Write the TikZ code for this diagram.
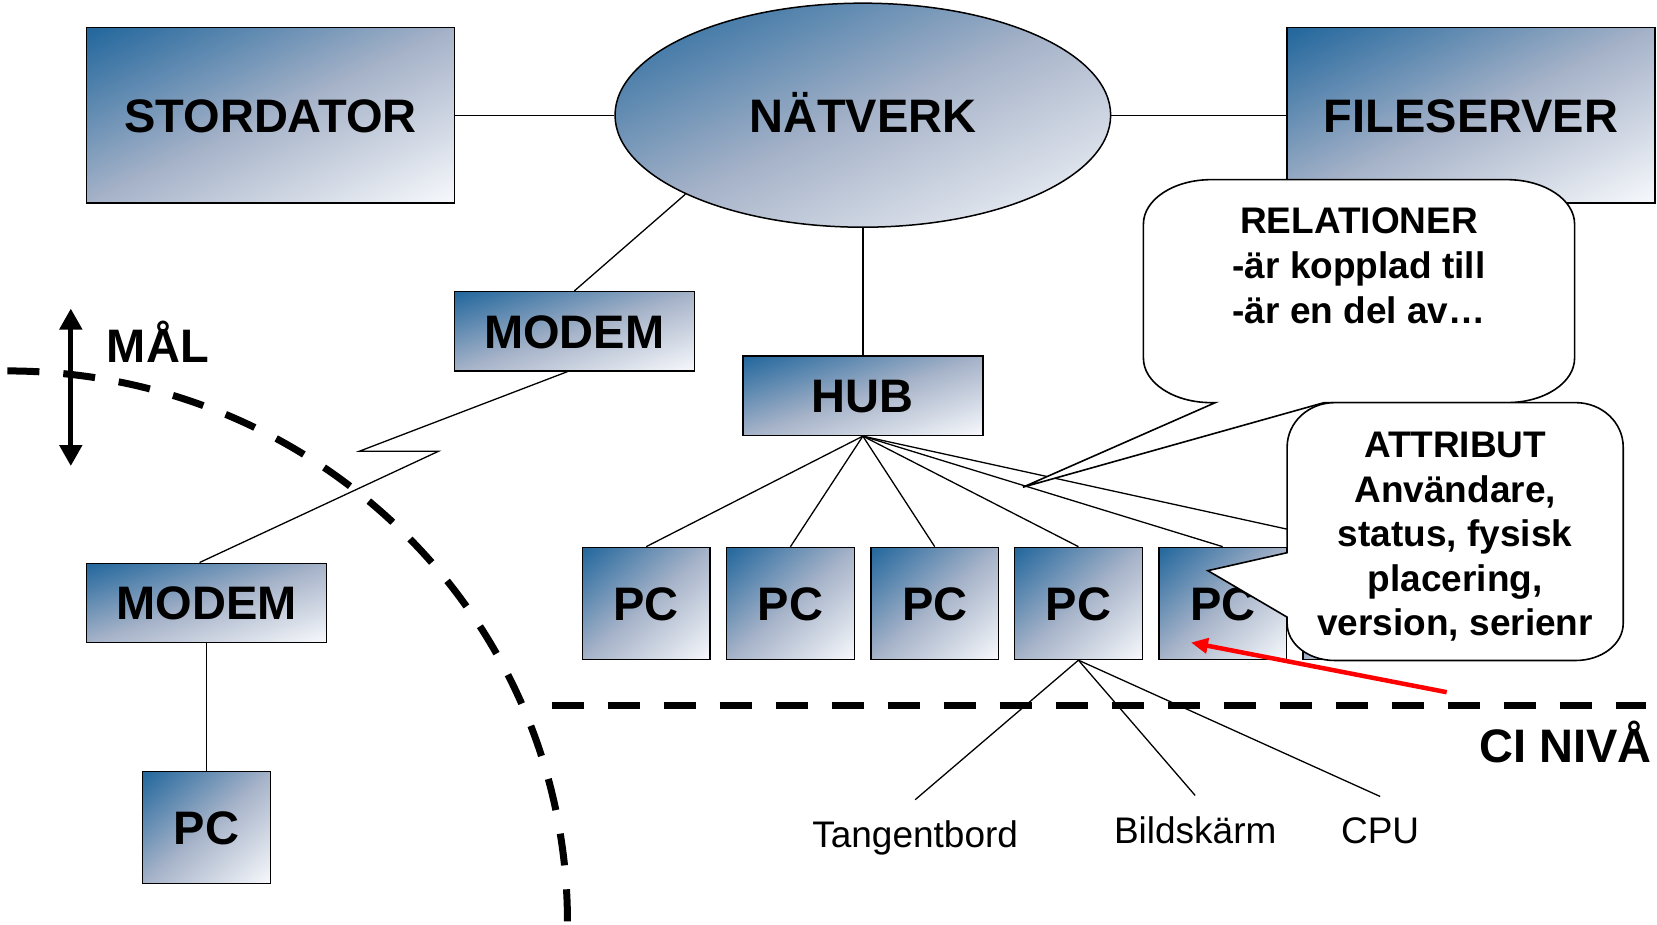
\documentclass[tikz,border=0pt]{standalone}
\usepackage{fontspec}
\setmainfont{Liberation Sans}
\usetikzlibrary{shapes.geometric,arrows.meta,backgrounds}
\pgfdeclarefunctionalshading{diagshade}{\pgfpoint{-50bp}{-50bp}}{\pgfpoint{50bp}{50bp}}{}{
  sub 50 add 100 div
  dup 0 lt {pop 0} if
  dup 1 gt {pop 1} if
  dup 0.5 lt
  { 2 mul
    dup 0.518 mul 0.129 add exch
    dup 0.298 mul 0.400 add exch
    0.172 mul 0.612 add }
  { 2 mul 1 sub
    dup 0.322 mul 0.647 add exch
    dup 0.278 mul 0.698 add exch
    0.204 mul 0.784 add }
  ifelse
}
\newcommand\BigLbl{\fontsize{47}{56}\selectfont\bfseries}
\newcommand\CallFnt{\fontsize{37}{44.6}\selectfont\bfseries}
\newcommand\SmallFnt{\fontsize{37}{44}\selectfont}
\begin{document}
\begin{tikzpicture}[x=1.0568pt, y=-1.0568pt,
  conn/.style={line width=1.3pt},
  wh/.style 2 args={minimum width=#1*1.0568pt, minimum height=#2*1.0568pt},
  gbox/.style={draw=black, line width=1.5pt, shading=diagshade, shading angle=0,
    rectangle, inner sep=0pt, font=\BigLbl, text height=33.7pt, text depth=0pt},
  callout/.style={draw=black, fill=white, line width=1.6pt},
  lbl/.style={font=\SmallFnt, inner sep=0pt, outer sep=0pt, anchor=base},
  dashline/.style={line width=7pt, dash pattern=on 32pt off 24pt},
]
\useasboundingbox (0,0) rectangle (1568,875);

% boxes
\node[gbox, wh={348}{166}] (stordator) at (256,109) {STORDATOR};
\node[gbox, ellipse, wh={469}{212}] (natverk) at (816.5,109) {NÄTVERK};
\node[gbox, wh={348}{166}] (fileserver) at (1392,109) {FILESERVER};
\node[gbox, wh={227}{75}] (modemA) at (543.5,313.5) {MODEM};
\node[gbox, wh={227}{75}] (hub) at (816.5,374.5) {HUB};
\node[gbox, wh={227}{75}] (modemB) at (195.5,570.5) {MODEM};
\foreach \i/\x in {1/611.5,2/748,3/884.5,4/1020.5,5/1157}
  \node[gbox, wh={121}{106}] (pc\i) at (\x,571) {PC};
\node[gbox, wh={121}{106}] (pc6) at (1293.5,571) {};
\node[gbox, wh={121}{106}] (pcL) at (195.5,783) {PC};

% labels under PC
\node[lbl] (tk) at (866,802) {Tangentbord};
\node[lbl] (bs) at (1131,798) {Bildskärm};
\node[lbl] (cpu) at (1306,798) {CPU};

\coordinate (zA) at (340,427);
\coordinate (zB) at (415,427);

% connectors
\begin{scope}[on background layer]
\draw[conn] (stordator.east) -- (natverk.west);
\draw[conn] (natverk.east) -- (fileserver.west);
\draw[conn] (natverk.204) -- (modemA.north);
\draw[conn] (natverk.south) -- (hub.north);
\draw[conn] ([xshift=-7pt]modemA.south) -- (zA) -- (zB) -- ([xshift=-7pt]modemB.north);
\draw[conn] (modemB.south) -- (pcL.north);
\foreach \i in {1,...,6} \draw[conn] (hub.south) -- (pc\i.north);
\draw[conn] (pc4.south) -- ([yshift=21pt]tk.north);
\draw[conn] (pc4.south) -- ([yshift=21pt]bs.north);
\draw[conn] (pc4.south) -- ([yshift=21pt]cpu.north);
\end{scope}

% callouts
\draw[callout] (1146,170) -- (1426,170) .. controls (1461.3,170) and (1490,188.8) .. (1490,212)
  -- (1490,339) .. controls (1490,362.2) and (1461.3,381) .. (1426,381)
  -- (1253,381) -- (968,461) -- (1150,381) -- (1146,381)
  .. controls (1110.7,381) and (1082,362.2) .. (1082,339)
  -- (1082,212) .. controls (1082,188.8) and (1110.7,170) .. (1146,170) -- cycle;
\node[font=\CallFnt, align=center, inner sep=0pt] (rel) at (1286,251.4)
  {RELATIONER\\-är kopplad till\\-är en del av…};

\draw[callout] (1263,381) -- (1491,381) .. controls (1515.9,381) and (1536,399.8) .. (1536,423)
  -- (1536,590) .. controls (1536,609.3) and (1515.9,625) .. (1491,625)
  -- (1263,625) .. controls (1238.1,625) and (1218,609.3) .. (1218,590)
  -- (1218,584) -- (1143,540) -- (1218,523)
  -- (1218,423) .. controls (1218,399.8) and (1238.1,381) .. (1263,381) -- cycle;
\node[font=\CallFnt, align=center, inner sep=0pt] (attr) at (1377,508)
  {ATTRIBUT\\Användare,\\status, fysisk\\placering,\\version, serienr};

% MÅL
\coordinate (malTop) at (67,292);
\coordinate (malBot) at (67,441);
\draw[line width=5pt, {Triangle[width=22pt,length=21pt]}-{Triangle[width=22pt,length=21pt]}] (malTop) -- (malBot);
\node[anchor=base west, font=\BigLbl, inner sep=0pt] (mal) at (101,343) {MÅL};

% dashed boundaries
\draw[dashline] (7,351) .. controls (299.7,351) and (537,584.7) .. (537,873) -- (537,890);
\draw[dashline] (522,668) -- (1558,668);
\node[anchor=base east, font=\BigLbl, inner sep=0pt] (ci) at (1563,722) {CI NIVÅ};

% red arrow
\coordinate (redTail) at (1369,655);
\draw[red, line width=4.5pt, -{Triangle[length=17pt,width=15pt]}] (redTail) -- ([xshift=-31.7pt,yshift=-39.1pt]pc5.center);
\end{tikzpicture}
\end{document}
